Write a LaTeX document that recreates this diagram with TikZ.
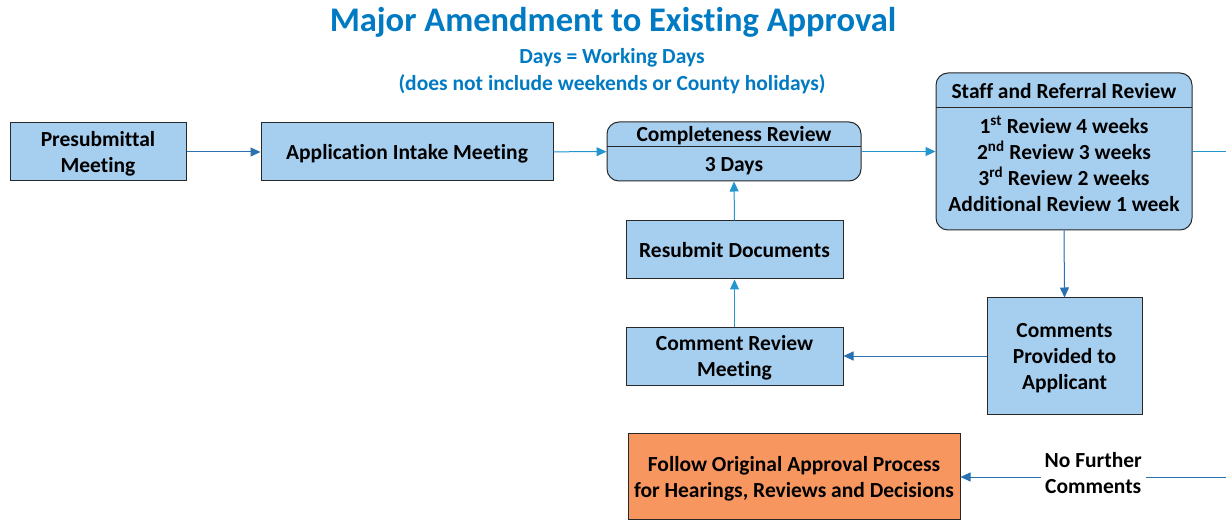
\documentclass[tikz,border=0pt]{standalone}
\usepackage{fontspec}
\setmainfont{Carlito}[Ligatures=NoCommon]
\usetikzlibrary{arrows.meta}
\definecolor{boxblue}{RGB}{166,206,238}
\definecolor{arrowdark}{RGB}{41,113,176}
\definecolor{arrowlight}{RGB}{35,150,208}
\definecolor{titleblue}{RGB}{0,122,194}
\definecolor{orangebox}{RGB}{248,150,96}
\definecolor{edgegray}{RGB}{40,40,40}
\begin{document}
\begin{tikzpicture}[x=1pt,y=-1pt,
  txt/.style={font=\bfseries\fontsize{21.5}{26}\selectfont, align=center, inner sep=0pt, text=black, text depth=0pt},
  box/.style={txt, draw=edgegray, line width=1pt, fill=boxblue},
  rbox/.style={box, rounded corners=12pt},
  obox/.style={txt, draw=edgegray, line width=1pt, fill=orangebox},
  divider/.style={draw=edgegray, line width=1pt},
  conn/.style={line width=1pt, -{Triangle[length=10pt,width=9pt]}},
  cdark/.style={conn, draw=arrowdark, fill=arrowdark},
  clight/.style={conn, draw=arrowlight, fill=arrowlight},
  ttl/.style={text=titleblue, inner sep=0pt}
]
\useasboundingbox (0,0) rectangle (1226,521);

% titles
\node[ttl, font=\bfseries\fontsize{34.5}{40}\selectfont] (title) at (613,22) {Major Amendment to Existing Approval};
\node[ttl, font=\bfseries\fontsize{21.5}{26}\selectfont] (sub1) at (612,58) {Days = Working Days};
\node[ttl, font=\bfseries\fontsize{21.5}{26}\selectfont] (sub2) at (612,84) {(does not include weekends or County holidays)};

% boxes
\node[box, minimum width=176pt, minimum height=58pt] (pre) at (98,152) {Presubmittal\\Meeting};
\node[box, minimum width=292pt, minimum height=58pt] (app) at (407,152) {Application Intake Meeting};

\node[rbox, minimum width=254pt, minimum height=59pt] (comp) at (734,151.5) {};
\coordinate (compdl) at (607,147);
\coordinate (compdr) at (861,147);
\draw[divider] (compdl) -- (compdr);
\node[txt] (comph) at (734,134) {Completeness Review};
\node[txt] (compb) at (734,164.5) {3 Days};

\node[rbox, minimum width=256pt, minimum height=157pt] (staff) at (1064,151.5) {};
\coordinate (staffdl) at (936,108);
\coordinate (staffdr) at (1192,108);
\draw[divider] (staffdl) -- (staffdr);
\node[txt] (staffh) at (1064,91) {Staff and Referral Review};
\node[txt] (staffb) at (1064,163.5) {1\textsuperscript{st} Review 4 weeks\\2\textsuperscript{nd} Review 3 weeks\\3\textsuperscript{rd} Review 2 weeks\\Additional Review 1 week};

\node[box, minimum width=217pt, minimum height=58pt] (resub) at (734.5,250) {Resubmit Documents};
\node[box, minimum width=217pt, minimum height=58pt] (crm) at (734.5,356) {Comment Review\\Meeting};
\node[box, minimum width=155pt, minimum height=116pt] (cpa) at (1064.5,356) {Comments\\Provided to\\Applicant};
\node[obox, minimum width=332pt, minimum height=86pt] (follow) at (794,476.5) {Follow Original Approval Process\\for Hearings, Reviews and Decisions};

\coordinate (rtop) at (1226,152);
\coordinate (rbot) at (1226,477);

% connectors
\draw[cdark] (pre) -- (app);
\draw[clight] (app) -- (comp);
\draw[clight] (comp) -- (staff);
\draw[line width=1pt, draw=arrowlight] (staff.east |- rtop) -- (rtop);
\draw[cdark] (staff.south) -- (cpa.north);
\draw[cdark] (cpa.west) -- (crm.east);
\draw[clight] (crm.north) -- (resub.south);
\draw[clight] (resub.north) -- (comp.south);
\draw[cdark] (rbot) -- node[txt, fill=white, inner xsep=4pt, pos=0.5, yshift=4pt] (nfc) {No Further\\Comments} (follow.east |- rbot);
\end{tikzpicture}
\end{document}
